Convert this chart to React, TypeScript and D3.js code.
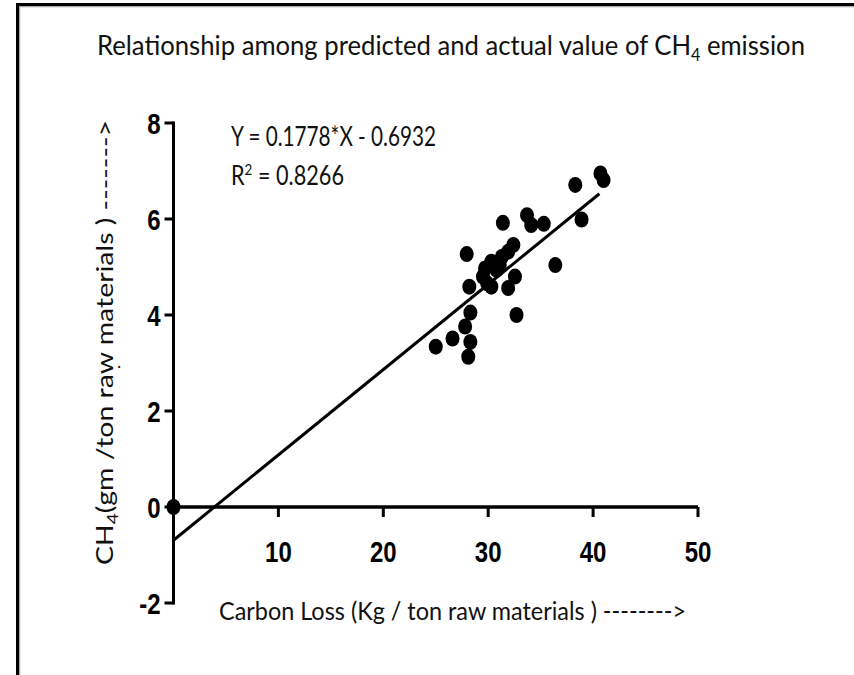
import React from "react";
import * as d3 from "d3";

const carbonLoss = [25.0, 26.6, 28.1, 28.3, 27.8, 28.3, 28.2, 27.95, 31.4, 33.7, 34.1, 35.3, 38.3, 40.7, 41.0, 38.9, 36.4, 32.7, 32.55, 31.9, 32.4, 31.9, 31.3, 30.3, 29.7, 30.8, 29.9, 30.3, 29.5, 31.1, 0];
const ch4 = [3.34, 3.51, 3.13, 3.44, 3.76, 4.05, 4.59, 5.27, 5.92, 6.08, 5.875, 5.9, 6.71, 6.95, 6.81, 5.99, 5.04, 4.0, 4.8, 4.56, 5.46, 5.32, 5.21, 5.11, 4.97, 4.94, 4.66, 4.59, 4.8, 5.04, 0];
const xTicks = [10, 20, 30, 40, 50];
const yTicks = [-2, 0, 2, 4, 6, 8];
const slope = 0.1778;
const intercept = -0.6932;
const fitRange = [0, 40.6];

export default function App() {
  const x = d3.scaleLinear().domain([0, 50]).range([173.5, 698]);
  const y = d3.scaleLinear().domain([-2, 8]).range([603, 123]);
  const fit = d3.line<number>().x((d) => x(d)).y((d) => y(slope * d + intercept));
  const tickFont = "'Liberation Sans', Arial, sans-serif";
  const textFont = "Lato, 'Open Sans', sans-serif";
  return (
    <svg width={854} height={675} style={{ position: "absolute", left: 0, top: 0, background: "#fff" }}>
      <rect x={0} y={0} width={854} height={675} fill="#fff" />
      {/* frame */}
      <line x1={19} y1={6.5} x2={854} y2={6.5} stroke="#aaa" strokeWidth={1.5} />
      <line x1={19.5} y1={6} x2={19.5} y2={675} stroke="#aaa" strokeWidth={1.5} />
      <line x1={16} y1={4.5} x2={854} y2={4.5} stroke="#000" strokeWidth={3} />
      <line x1={17.5} y1={3} x2={17.5} y2={675} stroke="#000" strokeWidth={3} />

      {/* title */}
      <text x={97} y={55} fontFamily={textFont} fontSize={27} fill="#111" textLength={708} lengthAdjust="spacingAndGlyphs">
        Relationship among predicted and actual value of CH<tspan fontSize={17} dy={6}>4</tspan><tspan dy={-6}> emission</tspan>
      </text>

      {/* regression line */}
      <path d={fit(fitRange) || ""} stroke="#000" strokeWidth={3} fill="none" />

      {/* axes */}
      <line x1={x(0)} y1={y(-2)} x2={x(0)} y2={y(8)} stroke="#000" strokeWidth={3} strokeLinecap="square" />
      <line x1={x(0)} y1={y(0)} x2={x(50)} y2={y(0)} stroke="#000" strokeWidth={3.5} />
      {yTicks.map((t) => (
        <g key={"y" + t}>
          <line x1={x(0) - 9} y1={y(t)} x2={x(0)} y2={y(t)} stroke="#000" strokeWidth={3} />
          <text transform={`translate(${x(0) - 13},${y(t) + 10.5}) scale(0.8,1)`} textAnchor="end" fontFamily={tickFont} fontWeight="bold" fontSize={30} fill="#000">
            {t}
          </text>
        </g>
      ))}
      {xTicks.map((t) => (
        <g key={"x" + t}>
          <line x1={x(t)} y1={y(0)} x2={x(t)} y2={y(0) + 10} stroke="#000" strokeWidth={3} />
          <text transform={`translate(${x(t)},${y(0) + 55}) scale(0.8,1)`} textAnchor="middle" fontFamily={tickFont} fontWeight="bold" fontSize={30} fill="#000">
            {t}
          </text>
        </g>
      ))}

      {/* points */}
      {carbonLoss.map((cx, i) => (
        <ellipse key={i} cx={x(cx)} cy={y(ch4[i])} rx={7} ry={8} fill="#000" />
      ))}

      {/* equation */}
      <text x={231} y={146} fontFamily={textFont} fontSize={26} fill="#111" textLength={205} lengthAdjust="spacingAndGlyphs">
        Y = 0.1778*X - 0.6932
      </text>
      <text x={231} y={185} fontFamily={textFont} fontSize={26} fill="#111" textLength={113} lengthAdjust="spacingAndGlyphs">
        R<tspan fontSize={16} dy={-10}>2</tspan><tspan dy={10}> = 0.8266</tspan>
      </text>

      {/* axis titles */}
      <text x={219} y={620} fontFamily={textFont} fontSize={25} fill="#111" textLength={467} lengthAdjust="spacingAndGlyphs">
        Carbon Loss (Kg / ton  raw materials ) --------&gt;
      </text>
      <text transform="translate(113,565) rotate(-90)" x={0} y={0} fontFamily={textFont} fontSize={24} fill="#111" textLength={445} lengthAdjust="spacingAndGlyphs">
        CH<tspan fontSize={16} dy={5}>4</tspan><tspan dy={-5}>(gm /ton raw materials ) -------&gt;</tspan>
      </text>
      <text x={117} y={368} fontFamily={textFont} fontSize={18} fill="#111">.</text>
    </svg>
  );
}
